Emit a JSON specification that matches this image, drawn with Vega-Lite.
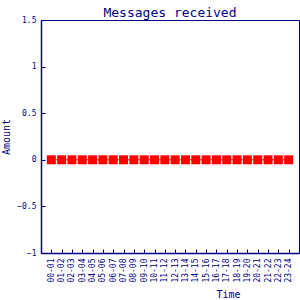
{
  "$schema": "https://vega.github.io/schema/vega-lite/v6.json",
  "autosize": "none",
  "width": 258,
  "height": 233,
  "padding": {"left": 41, "top": 20, "right": 1, "bottom": 47},
  "background": "white",
  "title": {"text": "Messages received", "font": "DejaVu Sans Mono", "fontSize": 13, "fontWeight": "normal", "color": "#000080", "offset": 0, "baseline": "alphabetic", "dy": 14},
  "config": {
    "view": {"stroke": "#000080", "strokeWidth": 1},
    "axis": {"grid": false, "domainColor": "#000080", "tickColor": "#000080", "labelColor": "#000080", "titleColor": "#000080", "labelFont": "DejaVu Sans Mono", "titleFont": "DejaVu Sans Mono", "labelFontSize": 8, "titleFontSize": 10, "titleFontWeight": "normal", "tickSize": -4, "domainWidth": 1.5}
  },
  "data": {"values": [
    {"t": "00-01", "v": 0}, {"t": "01-02", "v": 0}, {"t": "02-03", "v": 0}, {"t": "03-04", "v": 0},
    {"t": "04-05", "v": 0}, {"t": "05-06", "v": 0}, {"t": "06-07", "v": 0}, {"t": "07-08", "v": 0},
    {"t": "08-09", "v": 0}, {"t": "09-10", "v": 0}, {"t": "10-11", "v": 0}, {"t": "11-12", "v": 0},
    {"t": "12-13", "v": 0}, {"t": "13-14", "v": 0}, {"t": "14-15", "v": 0}, {"t": "15-16", "v": 0},
    {"t": "16-17", "v": 0}, {"t": "17-18", "v": 0}, {"t": "18-19", "v": 0}, {"t": "19-20", "v": 0},
    {"t": "20-21", "v": 0}, {"t": "21-22", "v": 0}, {"t": "22-23", "v": 0}, {"t": "23-24", "v": 0}
  ]},
  "encoding": {
    "x": {"field": "t", "type": "ordinal", "scale": {"type": "point", "padding": 1}, "axis": {"title": "Time", "labelAngle": -90, "labelPadding": 9, "titleX": 187, "titleY": 36}},
    "y": {"field": "v", "type": "quantitative", "scale": {"domain": [-1, 1.5], "nice": false, "zero": false}, "axis": {"title": "Amount", "values": [-1, -0.5, 0, 0.5, 1, 1.5], "format": "~g", "labelPadding": 9, "titleX": -30}}
  },
  "layer": [
    {"mark": {"type": "line", "color": "#ff0000", "strokeWidth": 1}},
    {"mark": {"type": "point", "shape": "square", "filled": true, "color": "#ff0000", "size": 81, "opacity": 1}}
  ]
}
